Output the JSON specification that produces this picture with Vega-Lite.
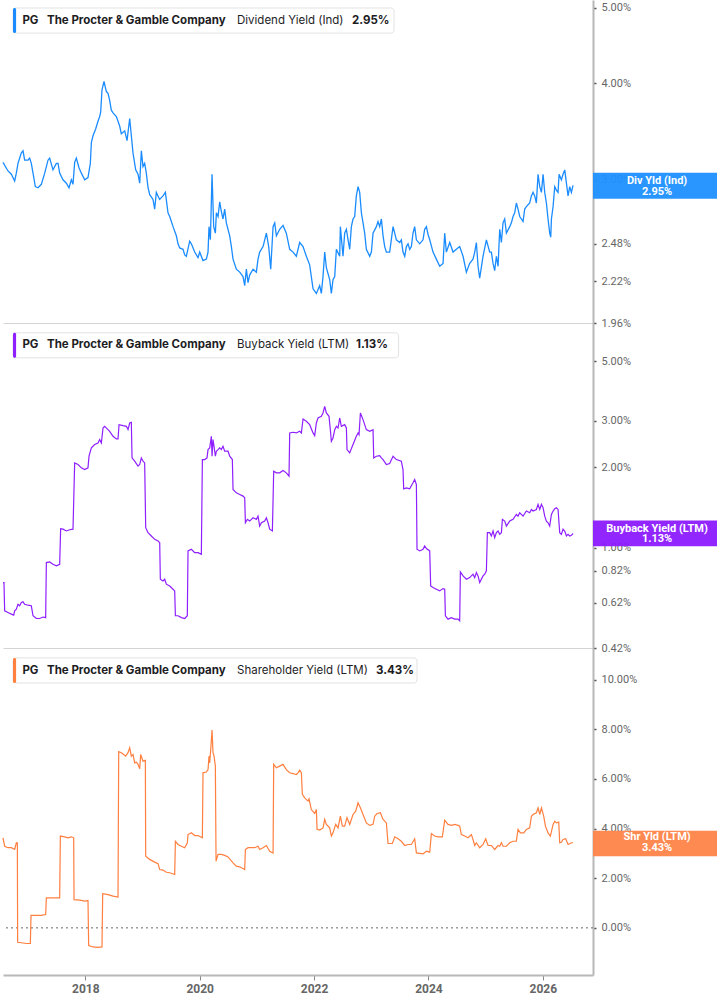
{
"$schema":"https://vega.github.io/schema/vega-lite/v6.json",
"padding":0,
"background":"white",
"spacing":0,
"bounds":"flush",
"config":{"view":{"stroke":null},"concat":{"spacing":0},"axis":{"grid":false,"title":null,"labelFont":"Roboto","labelColor":"#666666","labelFontSize":11}},
"datasets":{
"div":[
{"year":2016.561,"yield":3.16},{"year":2016.648,"yield":3.08},{"year":2016.707,"yield":3.05},{"year":2016.765,"yield":2.99},{"year":2016.794,"yield":3.06},{"year":2016.823,"yield":3.15},{"year":2016.882,"yield":3.25},{"year":2016.911,"yield":3.27},{"year":2016.94,"yield":3.18},{"year":2016.998,"yield":3.18},{"year":2017.027,"yield":3.2},{"year":2017.056,"yield":3.15},{"year":2017.086,"yield":3.06},{"year":2017.126,"yield":2.94},{"year":2017.173,"yield":2.93},{"year":2017.231,"yield":2.96},{"year":2017.29,"yield":3.06},{"year":2017.348,"yield":3.18},{"year":2017.377,"yield":3.2},{"year":2017.435,"yield":3.09},{"year":2017.494,"yield":3.15},{"year":2017.523,"yield":3.15},{"year":2017.552,"yield":3.06},{"year":2017.61,"yield":3.0},{"year":2017.669,"yield":2.97},{"year":2017.715,"yield":2.93},{"year":2017.756,"yield":3.0},{"year":2017.785,"yield":2.96},{"year":2017.814,"yield":3.16},{"year":2017.843,"yield":3.2},{"year":2017.89,"yield":3.11},{"year":2017.931,"yield":3.06},{"year":2017.989,"yield":3.0},{"year":2018.047,"yield":3.02},{"year":2018.088,"yield":3.15},{"year":2018.106,"yield":3.35},{"year":2018.135,"yield":3.42},{"year":2018.181,"yield":3.49},{"year":2018.222,"yield":3.57},{"year":2018.251,"yield":3.62},{"year":2018.269,"yield":3.67},{"year":2018.292,"yield":3.92},{"year":2018.327,"yield":4.02},{"year":2018.368,"yield":3.9},{"year":2018.397,"yield":3.88},{"year":2018.426,"yield":3.8},{"year":2018.455,"yield":3.69},{"year":2018.485,"yield":3.66},{"year":2018.543,"yield":3.62},{"year":2018.601,"yield":3.52},{"year":2018.63,"yield":3.44},{"year":2018.689,"yield":3.47},{"year":2018.73,"yield":3.37},{"year":2018.776,"yield":3.6},{"year":2018.805,"yield":3.42},{"year":2018.834,"yield":3.25},{"year":2018.881,"yield":3.09},{"year":2018.922,"yield":3.05},{"year":2018.951,"yield":2.97},{"year":2018.98,"yield":3.27},{"year":2019.009,"yield":3.12},{"year":2019.038,"yield":3.15},{"year":2019.067,"yield":3.06},{"year":2019.097,"yield":2.93},{"year":2019.126,"yield":2.87},{"year":2019.184,"yield":2.83},{"year":2019.213,"yield":2.75},{"year":2019.242,"yield":2.89},{"year":2019.3,"yield":2.83},{"year":2019.359,"yield":2.86},{"year":2019.4,"yield":2.89},{"year":2019.446,"yield":2.72},{"year":2019.476,"yield":2.69},{"year":2019.534,"yield":2.61},{"year":2019.592,"yield":2.54},{"year":2019.621,"yield":2.48},{"year":2019.651,"yield":2.45},{"year":2019.709,"yield":2.44},{"year":2019.738,"yield":2.4},{"year":2019.767,"yield":2.39},{"year":2019.825,"yield":2.5},{"year":2019.854,"yield":2.48},{"year":2019.913,"yield":2.42},{"year":2019.971,"yield":2.38},{"year":2020.0,"yield":2.42},{"year":2020.058,"yield":2.36},{"year":2020.117,"yield":2.37},{"year":2020.146,"yield":2.42},{"year":2020.163,"yield":2.61},{"year":2020.187,"yield":2.51},{"year":2020.216,"yield":3.05},{"year":2020.245,"yield":2.61},{"year":2020.274,"yield":2.56},{"year":2020.292,"yield":2.72},{"year":2020.321,"yield":2.69},{"year":2020.35,"yield":2.81},{"year":2020.379,"yield":2.73},{"year":2020.408,"yield":2.67},{"year":2020.437,"yield":2.75},{"year":2020.466,"yield":2.64},{"year":2020.525,"yield":2.54},{"year":2020.554,"yield":2.46},{"year":2020.583,"yield":2.37},{"year":2020.641,"yield":2.3},{"year":2020.7,"yield":2.28},{"year":2020.758,"yield":2.25},{"year":2020.787,"yield":2.19},{"year":2020.816,"yield":2.3},{"year":2020.845,"yield":2.21},{"year":2020.874,"yield":2.26},{"year":2020.933,"yield":2.3},{"year":2020.991,"yield":2.28},{"year":2021.02,"yield":2.37},{"year":2021.049,"yield":2.42},{"year":2021.108,"yield":2.46},{"year":2021.166,"yield":2.56},{"year":2021.207,"yield":2.46},{"year":2021.242,"yield":2.3},{"year":2021.283,"yield":2.61},{"year":2021.312,"yield":2.64},{"year":2021.341,"yield":2.54},{"year":2021.399,"yield":2.59},{"year":2021.457,"yield":2.62},
{"year":2021.515,"yield":2.56},{"year":2021.574,"yield":2.44},{"year":2021.632,"yield":2.42},{"year":2021.69,"yield":2.39},{"year":2021.748,"yield":2.49},{"year":2021.807,"yield":2.46},{"year":2021.865,"yield":2.39},{"year":2021.923,"yield":2.33},{"year":2021.982,"yield":2.17},{"year":2022.04,"yield":2.14},{"year":2022.098,"yield":2.19},{"year":2022.127,"yield":2.14},{"year":2022.156,"yield":2.25},{"year":2022.186,"yield":2.42},{"year":2022.215,"yield":2.31},{"year":2022.273,"yield":2.23},{"year":2022.302,"yield":2.14},{"year":2022.331,"yield":2.23},{"year":2022.361,"yield":2.25},{"year":2022.39,"yield":2.44},{"year":2022.448,"yield":2.39},{"year":2022.46,"yield":2.61},{"year":2022.506,"yield":2.39},{"year":2022.535,"yield":2.56},{"year":2022.565,"yield":2.59},{"year":2022.594,"yield":2.51},{"year":2022.623,"yield":2.44},{"year":2022.652,"yield":2.61},{"year":2022.681,"yield":2.67},{"year":2022.71,"yield":2.69},{"year":2022.739,"yield":2.86},{"year":2022.769,"yield":2.94},{"year":2022.798,"yield":2.89},{"year":2022.827,"yield":2.72},{"year":2022.856,"yield":2.64},{"year":2022.885,"yield":2.56},{"year":2022.914,"yield":2.44},{"year":2022.973,"yield":2.39},{"year":2023.002,"yield":2.42},{"year":2023.031,"yield":2.56},{"year":2023.089,"yield":2.61},{"year":2023.118,"yield":2.65},{"year":2023.147,"yield":2.61},{"year":2023.177,"yield":2.67},{"year":2023.206,"yield":2.54},{"year":2023.235,"yield":2.46},{"year":2023.264,"yield":2.42},{"year":2023.322,"yield":2.42},{"year":2023.381,"yield":2.61},{"year":2023.41,"yield":2.56},{"year":2023.439,"yield":2.51},{"year":2023.497,"yield":2.49},{"year":2023.526,"yield":2.51},{"year":2023.555,"yield":2.42},{"year":2023.585,"yield":2.39},{"year":2023.614,"yield":2.46},{"year":2023.643,"yield":2.48},{"year":2023.672,"yield":2.44},{"year":2023.701,"yield":2.46},{"year":2023.73,"yield":2.56},{"year":2023.759,"yield":2.61},{"year":2023.789,"yield":2.51},{"year":2023.847,"yield":2.48},{"year":2023.905,"yield":2.51},{"year":2023.934,"yield":2.59},{"year":2023.964,"yield":2.61},{"year":2023.993,"yield":2.55},{"year":2024.022,"yield":2.51},{"year":2024.08,"yield":2.42},{"year":2024.138,"yield":2.37},{"year":2024.197,"yield":2.32},{"year":2024.255,"yield":2.34},{"year":2024.284,"yield":2.56},{"year":2024.313,"yield":2.42},{"year":2024.372,"yield":2.49},{"year":2024.43,"yield":2.42},{"year":2024.488,"yield":2.44},{"year":2024.546,"yield":2.46},{"year":2024.605,"yield":2.39},{"year":2024.663,"yield":2.28},{"year":2024.721,"yield":2.34},{"year":2024.779,"yield":2.37},{"year":2024.809,"yield":2.42},{"year":2024.838,"yield":2.49},{"year":2024.867,"yield":2.32},{"year":2024.896,"yield":2.24},{"year":2024.954,"yield":2.39},{"year":2025.013,"yield":2.51},{"year":2025.071,"yield":2.42},{"year":2025.1,"yield":2.42},{"year":2025.129,"yield":2.34},{"year":2025.158,"yield":2.29},{"year":2025.188,"yield":2.39},{"year":2025.217,"yield":2.32},{"year":2025.246,"yield":2.59},{"year":2025.275,"yield":2.49},{"year":2025.304,"yield":2.64},{"year":2025.333,"yield":2.67},{"year":2025.363,"yield":2.56},{"year":2025.421,"yield":2.61},{"year":2025.45,"yield":2.64},{"year":2025.479,"yield":2.69},{"year":2025.508,"yield":2.72},{"year":2025.537,"yield":2.8},{"year":2025.566,"yield":2.75},{"year":2025.596,"yield":2.69},{"year":2025.654,"yield":2.65},{"year":2025.683,"yield":2.75},{"year":2025.712,"yield":2.77},{"year":2025.77,"yield":2.8},{"year":2025.8,"yield":2.86},{"year":2025.829,"yield":2.89},{"year":2025.858,"yield":2.86},{"year":2025.887,"yield":2.8},{"year":2025.916,"yield":3.05},{"year":2025.946,"yield":2.94},{"year":2025.975,"yield":2.89},{"year":2026.004,"yield":3.05},{"year":2026.033,"yield":2.89},{"year":2026.062,"yield":2.8},{"year":2026.091,"yield":2.67},{"year":2026.12,"yield":2.56},{"year":2026.138,"yield":2.53},{"year":2026.15,"yield":2.67},{"year":2026.179,"yield":2.77},{"year":2026.208,"yield":2.94},{"year":2026.237,"yield":2.91},{"year":2026.266,"yield":2.89},{"year":2026.284,"yield":3.05},{"year":2026.324,"yield":3.0},{"year":2026.353,"yield":3.05},{"year":2026.383,"yield":3.09},{"year":2026.412,"yield":2.97},{"year":2026.441,"yield":2.86},{"year":2026.47,"yield":2.94},{"year":2026.499,"yield":2.89},{"year":2026.528,"yield":2.95}
],
"bb":[
{"year":2016.561,"yield":0.739},{"year":2016.578,"yield":0.739},{"year":2016.59,"yield":0.579},{"year":2016.648,"yield":0.571},{"year":2016.707,"yield":0.563},{"year":2016.748,"yield":0.558},{"year":2016.765,"yield":0.579},{"year":2016.794,"yield":0.588},{"year":2016.823,"yield":0.613},{"year":2016.852,"yield":0.605},{"year":2016.882,"yield":0.622},{"year":2016.911,"yield":0.626},{"year":2016.94,"yield":0.613},{"year":2016.998,"yield":0.608},{"year":2017.056,"yield":0.605},{"year":2017.086,"yield":0.555},{"year":2017.144,"yield":0.542},{"year":2017.202,"yield":0.542},{"year":2017.26,"yield":0.549},{"year":2017.307,"yield":0.546},{"year":2017.319,"yield":0.879},{"year":2017.377,"yield":0.884},{"year":2017.435,"yield":0.866},{"year":2017.494,"yield":0.854},{"year":2017.552,"yield":0.866},{"year":2017.569,"yield":1.178},{"year":2017.61,"yield":1.173},{"year":2017.669,"yield":1.155},{"year":2017.727,"yield":1.167},{"year":2017.785,"yield":1.173},{"year":2017.814,"yield":2.08},{"year":2017.873,"yield":2.051},{"year":2017.931,"yield":1.993},{"year":2017.989,"yield":1.964},{"year":2018.047,"yield":1.993},{"year":2018.065,"yield":2.204},{"year":2018.106,"yield":2.368},{"year":2018.164,"yield":2.437},{"year":2018.222,"yield":2.472},{"year":2018.251,"yield":2.544},{"year":2018.281,"yield":2.472},{"year":2018.31,"yield":2.813},{"year":2018.339,"yield":2.854},{"year":2018.397,"yield":2.773},{"year":2018.426,"yield":2.733},{"year":2018.485,"yield":2.618},{"year":2018.543,"yield":2.559},{"year":2018.572,"yield":2.559},{"year":2018.59,"yield":2.895},{"year":2018.66,"yield":2.87},{"year":2018.718,"yield":2.854},{"year":2018.747,"yield":2.773},{"year":2018.776,"yield":2.937},{"year":2018.805,"yield":2.954},{"year":2018.817,"yield":2.172},{"year":2018.863,"yield":2.111},{"year":2018.922,"yield":2.022},{"year":2018.951,"yield":2.051},{"year":2018.98,"yield":2.172},{"year":2019.009,"yield":2.111},{"year":2019.038,"yield":2.08},{"year":2019.056,"yield":1.188},{"year":2019.097,"yield":1.138},{"year":2019.155,"yield":1.106},{"year":2019.213,"yield":1.074},{"year":2019.272,"yield":1.059},{"year":2019.301,"yield":1.044},{"year":2019.312,"yield":0.761},{"year":2019.359,"yield":0.75},{"year":2019.388,"yield":0.761},{"year":2019.417,"yield":0.729},{"year":2019.476,"yield":0.718},{"year":2019.534,"yield":0.698},{"year":2019.563,"yield":0.688},{"year":2019.575,"yield":0.555},{"year":2019.621,"yield":0.555},{"year":2019.68,"yield":0.546},{"year":2019.738,"yield":0.542},{"year":2019.784,"yield":0.555},{"year":2019.796,"yield":0.972},{"year":2019.854,"yield":0.986},{"year":2019.913,"yield":0.958},{"year":2019.971,"yield":0.958},{"year":2020.029,"yield":0.944},{"year":2020.047,"yield":2.141},{"year":2020.088,"yield":2.141},{"year":2020.128,"yield":2.172},{"year":2020.146,"yield":2.334},{"year":2020.175,"yield":2.368},{"year":2020.204,"yield":2.618},{"year":2020.216,"yield":2.204},{"year":2020.233,"yield":2.544},{"year":2020.251,"yield":2.402},{"year":2020.274,"yield":2.204},{"year":2020.292,"yield":2.301},{"year":2020.321,"yield":2.334},{"year":2020.35,"yield":2.368},{"year":2020.379,"yield":2.334},{"year":2020.408,"yield":2.402},{"year":2020.437,"yield":2.301},{"year":2020.496,"yield":2.301},{"year":2020.525,"yield":2.204},{"year":2020.571,"yield":2.141},{"year":2020.583,"yield":1.653},{"year":2020.641,"yield":1.606},{"year":2020.7,"yield":1.584},{"year":2020.758,"yield":1.561},{"year":2020.787,"yield":1.539},{"year":2020.799,"yield":1.24},{"year":2020.834,"yield":1.277},{"year":2020.874,"yield":1.258},{"year":2020.933,"yield":1.295},{"year":2020.991,"yield":1.277},{"year":2021.02,"yield":1.313},{"year":2021.049,"yield":1.205},{"year":2021.079,"yield":1.24},{"year":2021.137,"yield":1.258},{"year":2021.166,"yield":1.295},{"year":2021.195,"yield":1.24},{"year":2021.224,"yield":1.173},{"year":2021.271,"yield":1.155},{"year":2021.294,"yield":1.936},{"year":2021.341,"yield":1.909},{"year":2021.399,"yield":1.909},{"year":2021.457,"yield":1.947},{"year":2021.515,"yield":1.909},{"year":2021.562,"yield":1.855},{"year":2021.574,"yield":2.695},{"year":2021.632,"yield":2.711},{"year":2021.69,"yield":2.695},{"year":2021.748,"yield":2.733},{"year":2021.778,"yield":2.695},{"year":2021.807,"yield":3.04},{"year":2021.865,"yield":2.98},{"year":2021.923,"yield":2.895},{"year":2021.982,"yield":2.695},{"year":2022.011,"yield":2.633},{"year":2022.04,"yield":2.937},{"year":2022.069,"yield":3.067},{"year":2022.127,"yield":3.111},{"year":2022.156,"yield":3.202},{"year":2022.186,"yield":3.391},{"year":2022.215,"yield":3.202},{"year":2022.261,"yield":3.111},{"year":2022.29,"yield":2.695},{"year":2022.302,"yield":2.508},{"year":2022.331,"yield":2.581},{"year":2022.361,"yield":2.773},{"year":2022.39,"yield":2.854},{"year":2022.419,"yield":2.813},{"year":2022.448,"yield":3.067},{"year":2022.477,"yield":2.854},{"year":2022.535,"yield":2.895},{"year":2022.565,"yield":2.813},{"year":2022.576,"yield":2.334},{"year":2022.623,"yield":2.268},{"year":2022.681,"yield":2.437},{"year":2022.739,"yield":2.618},{"year":2022.769,"yield":2.695},{"year":2022.786,"yield":2.656},{"year":2022.81,"yield":3.202},{"year":2022.856,"yield":3.023},{"year":2022.914,"yield":2.773},{"year":2022.973,"yield":2.733},{"year":2023.031,"yield":2.773},{"year":2023.043,"yield":2.172},{"year":2023.089,"yield":2.204},{"year":2023.147,"yield":2.216},{"year":2023.177,"yield":2.172},{"year":2023.206,"yield":2.141},{"year":2023.264,"yield":2.051},{"year":2023.322,"yield":2.068},{"year":2023.381,"yield":2.204},{"year":2023.439,"yield":2.141},{"year":2023.526,"yield":2.111},{"year":2023.555,"yield":1.964},{"year":2023.567,"yield":1.663},{"year":2023.614,"yield":1.677},{"year":2023.672,"yield":1.663},{"year":2023.73,"yield":1.751},{"year":2023.759,"yield":1.802},{"year":2023.789,"yield":1.726},{"year":2023.8,"yield":0.986},{"year":2023.847,"yield":0.972},{"year":2023.905,"yield":0.986},{"year":2023.934,"yield":1.014},{"year":2023.964,"yield":0.992},{"year":2024.022,"yield":0.972},{"year":2024.039,"yield":0.718},{"year":2024.08,"yield":0.708},{"year":2024.138,"yield":0.698},{"year":2024.197,"yield":0.688},{"year":2024.255,"yield":0.702},{"year":2024.284,"yield":0.698},{"year":2024.296,"yield":0.555},{"year":2024.342,"yield":0.539},{"year":2024.401,"yield":0.546},{"year":2024.459,"yield":0.539},{"year":2024.517,"yield":0.539},{"year":2024.546,"yield":0.531},{"year":2024.558,"yield":0.811},{"year":2024.605,"yield":0.783},{"year":2024.663,"yield":0.761},{"year":2024.721,"yield":0.772},{"year":2024.779,"yield":0.795},{"year":2024.809,"yield":0.772},{"year":2024.838,"yield":0.806},{"year":2024.867,"yield":0.783},{"year":2024.896,"yield":0.739},{"year":2024.954,"yield":0.783},{"year":2024.984,"yield":0.795},{"year":2025.013,"yield":0.818},{"year":2025.03,"yield":1.138},{"year":2025.071,"yield":1.138},{"year":2025.1,"yield":1.106},{"year":2025.129,"yield":1.155},{"year":2025.158,"yield":1.09},{"year":2025.188,"yield":1.138},{"year":2025.217,"yield":1.155},{"year":2025.246,"yield":1.122},{"year":2025.275,"yield":1.138},{"year":2025.293,"yield":1.277},{"year":2025.333,"yield":1.258},{"year":2025.363,"yield":1.205},{"year":2025.421,"yield":1.258},{"year":2025.479,"yield":1.277},{"year":2025.537,"yield":1.333},{"year":2025.566,"yield":1.313},{"year":2025.596,"yield":1.352},{"year":2025.654,"yield":1.313},{"year":2025.712,"yield":1.372},{"year":2025.77,"yield":1.352},{"year":2025.8,"yield":1.391},{"year":2025.829,"yield":1.372},{"year":2025.887,"yield":1.391},{"year":2025.916,"yield":1.453},{"year":2025.946,"yield":1.391},{"year":2025.975,"yield":1.453},{"year":2026.004,"yield":1.412},{"year":2026.033,"yield":1.313},{"year":2026.062,"yield":1.258},{"year":2026.091,"yield":1.24},{"year":2026.12,"yield":1.205},{"year":2026.15,"yield":1.333},{"year":2026.179,"yield":1.372},{"year":2026.208,"yield":1.4},{"year":2026.237,"yield":1.412},{"year":2026.266,"yield":1.391},{"year":2026.295,"yield":1.138},{"year":2026.324,"yield":1.122},{"year":2026.353,"yield":1.173},{"year":2026.383,"yield":1.155},{"year":2026.412,"yield":1.106},{"year":2026.441,"yield":1.122},{"year":2026.47,"yield":1.106},{"year":2026.499,"yield":1.112},{"year":2026.528,"yield":1.13}
],
"sy":[
{"year":2016.561,"yield":3.63},{"year":2016.59,"yield":3.29},{"year":2016.648,"yield":3.23},{"year":2016.707,"yield":3.23},{"year":2016.765,"yield":3.16},{"year":2016.794,"yield":3.43},{"year":2016.812,"yield":3.43},{"year":2016.817,"yield":-0.58},{"year":2016.882,"yield":-0.6},{"year":2016.969,"yield":-0.63},{"year":2017.039,"yield":-0.63},{"year":2017.051,"yield":0.5},{"year":2017.144,"yield":0.5},{"year":2017.231,"yield":0.5},{"year":2017.307,"yield":0.54},{"year":2017.319,"yield":1.21},{"year":2017.435,"yield":1.21},{"year":2017.552,"yield":1.21},{"year":2017.564,"yield":3.7},{"year":2017.639,"yield":3.67},{"year":2017.698,"yield":3.63},{"year":2017.756,"yield":3.67},{"year":2017.797,"yield":3.63},{"year":2017.803,"yield":1.14},{"year":2017.902,"yield":1.12},{"year":2017.989,"yield":1.08},{"year":2018.047,"yield":1.1},{"year":2018.059,"yield":-0.71},{"year":2018.135,"yield":-0.77},{"year":2018.222,"yield":-0.79},{"year":2018.292,"yield":-0.77},{"year":2018.304,"yield":1.38},{"year":2018.397,"yield":1.34},{"year":2018.485,"yield":1.28},{"year":2018.572,"yield":1.24},{"year":2018.584,"yield":7.1},{"year":2018.63,"yield":7.06},{"year":2018.671,"yield":6.99},{"year":2018.706,"yield":6.92},{"year":2018.747,"yield":7.06},{"year":2018.776,"yield":7.26},{"year":2018.805,"yield":6.92},{"year":2018.834,"yield":6.99},{"year":2018.863,"yield":6.65},{"year":2018.893,"yield":6.68},{"year":2018.922,"yield":6.59},{"year":2018.951,"yield":6.41},{"year":2018.968,"yield":6.99},{"year":2019.009,"yield":6.72},{"year":2019.05,"yield":6.75},{"year":2019.056,"yield":2.89},{"year":2019.126,"yield":2.76},{"year":2019.213,"yield":2.65},{"year":2019.272,"yield":2.59},{"year":2019.301,"yield":2.35},{"year":2019.359,"yield":2.33},{"year":2019.417,"yield":2.24},{"year":2019.476,"yield":2.22},{"year":2019.563,"yield":2.15},{"year":2019.575,"yield":3.49},{"year":2019.621,"yield":3.36},{"year":2019.68,"yield":3.29},{"year":2019.738,"yield":3.23},{"year":2019.784,"yield":3.43},{"year":2019.796,"yield":3.76},{"year":2019.854,"yield":3.83},{"year":2019.913,"yield":3.72},{"year":2019.971,"yield":3.72},{"year":2020.047,"yield":3.63},{"year":2020.058,"yield":6.25},{"year":2020.117,"yield":6.28},{"year":2020.146,"yield":6.38},{"year":2020.163,"yield":6.92},{"year":2020.175,"yield":6.65},{"year":2020.193,"yield":7.19},{"year":2020.216,"yield":7.97},{"year":2020.233,"yield":7.06},{"year":2020.251,"yield":6.92},{"year":2020.274,"yield":6.52},{"year":2020.286,"yield":2.69},{"year":2020.321,"yield":2.96},{"year":2020.379,"yield":2.96},{"year":2020.437,"yield":2.92},{"year":2020.496,"yield":2.86},{"year":2020.583,"yield":2.62},{"year":2020.641,"yield":2.49},{"year":2020.7,"yield":2.46},{"year":2020.787,"yield":2.35},{"year":2020.799,"yield":3.16},{"year":2020.845,"yield":3.23},{"year":2020.904,"yield":3.23},{"year":2020.962,"yield":3.23},{"year":2021.02,"yield":3.29},{"year":2021.049,"yield":3.16},{"year":2021.108,"yield":3.23},{"year":2021.166,"yield":3.32},{"year":2021.224,"yield":3.09},{"year":2021.283,"yield":3.02},{"year":2021.294,"yield":6.59},{"year":2021.341,"yield":6.45},{"year":2021.399,"yield":6.52},{"year":2021.457,"yield":6.59},{"year":2021.515,"yield":6.38},{"year":2021.574,"yield":6.25},{"year":2021.632,"yield":6.22},{"year":2021.69,"yield":6.18},{"year":2021.719,"yield":6.25},{"year":2021.748,"yield":6.36},{"year":2021.778,"yield":6.25},{"year":2021.795,"yield":5.38},{"year":2021.836,"yield":5.24},{"year":2021.894,"yield":5.11},{"year":2021.912,"yield":5.2},{"year":2021.952,"yield":4.77},{"year":2022.011,"yield":4.61},{"year":2022.04,"yield":4.77},{"year":2022.052,"yield":3.97},{"year":2022.098,"yield":3.94},{"year":2022.156,"yield":4.03},{"year":2022.186,"yield":4.37},{"year":2022.215,"yield":4.17},{"year":2022.273,"yield":4.03},{"year":2022.302,"yield":3.7},{"year":2022.331,"yield":3.83},{"year":2022.378,"yield":4.17},{"year":2022.419,"yield":4.03},{"year":2022.46,"yield":4.5},{"year":2022.495,"yield":4.1},{"year":2022.535,"yield":4.1},{"year":2022.576,"yield":4.44},{"year":2022.623,"yield":4.17},{"year":2022.681,"yield":4.57},{"year":2022.728,"yield":4.7},{"year":2022.769,"yield":5.04},{"year":2022.81,"yield":4.84},{"year":2022.856,"yield":4.57},{"year":2022.914,"yield":4.23},{"year":2022.973,"yield":4.13},{"year":2023.031,"yield":4.17},{"year":2023.06,"yield":4.5},{"year":2023.101,"yield":4.61},{"year":2023.159,"yield":4.64},{"year":2023.206,"yield":4.37},{"year":2023.264,"yield":4.23},{"year":2023.293,"yield":3.4},{"year":2023.369,"yield":3.4},{"year":2023.41,"yield":3.67},{"year":2023.468,"yield":3.59},{"year":2023.526,"yield":3.49},{"year":2023.585,"yield":3.32},{"year":2023.643,"yield":3.36},{"year":2023.701,"yield":3.36},{"year":2023.759,"yield":3.59},{"year":2023.789,"yield":3.02},{"year":2023.847,"yield":3.0},{"year":2023.905,"yield":2.98},{"year":2023.964,"yield":3.09},{"year":2024.022,"yield":3.05},{"year":2024.051,"yield":3.8},{"year":2024.109,"yield":3.7},{"year":2024.168,"yield":3.67},{"year":2024.243,"yield":3.67},{"year":2024.284,"yield":4.34},{"year":2024.342,"yield":4.17},{"year":2024.401,"yield":4.13},{"year":2024.459,"yield":4.17},{"year":2024.517,"yield":4.13},{"year":2024.546,"yield":4.1},{"year":2024.576,"yield":3.76},{"year":2024.634,"yield":3.7},{"year":2024.692,"yield":3.63},{"year":2024.75,"yield":3.76},{"year":2024.779,"yield":3.56},{"year":2024.809,"yield":3.32},{"year":2024.838,"yield":3.43},{"year":2024.896,"yield":3.23},{"year":2024.954,"yield":3.36},{"year":2025.001,"yield":3.59},{"year":2025.042,"yield":3.32},{"year":2025.1,"yield":3.32},{"year":2025.158,"yield":3.16},{"year":2025.217,"yield":3.32},{"year":2025.246,"yield":3.29},{"year":2025.275,"yield":3.43},{"year":2025.304,"yield":3.29},{"year":2025.363,"yield":3.29},{"year":2025.421,"yield":3.43},{"year":2025.479,"yield":3.49},{"year":2025.537,"yield":3.49},{"year":2025.566,"yield":3.97},{"year":2025.607,"yield":3.83},{"year":2025.666,"yield":3.83},{"year":2025.712,"yield":3.97},{"year":2025.77,"yield":4.03},{"year":2025.8,"yield":4.5},{"year":2025.829,"yield":4.57},{"year":2025.887,"yield":4.64},{"year":2025.916,"yield":4.84},{"year":2025.946,"yield":4.57},{"year":2025.975,"yield":4.84},{"year":2026.015,"yield":4.5},{"year":2026.045,"yield":4.1},{"year":2026.091,"yield":3.83},{"year":2026.132,"yield":3.7},{"year":2026.179,"yield":4.17},{"year":2026.208,"yield":4.3},{"year":2026.237,"yield":4.23},{"year":2026.278,"yield":4.26},{"year":2026.295,"yield":3.43},{"year":2026.324,"yield":3.45},{"year":2026.353,"yield":3.56},{"year":2026.4,"yield":3.59},{"year":2026.441,"yield":3.36},{"year":2026.499,"yield":3.43},{"year":2026.528,"yield":3.43}
]
},
"vconcat":[
{
"width":590,"height":323,
"layer":[
{"data":{"name":"div"},"mark":{"type":"line","color":"#1a8cff","strokeWidth":1.3},
 "encoding":{
  "x":{"field":"year","type":"quantitative","scale":{"domain":[2016.561,2026.877],"nice":false,"zero":false},"axis":{"orient":"bottom","labels":false,"ticks":false,"domainColor":"#d4d4d4","domainWidth":1,"minExtent":0,"maxExtent":0}},
  "y":{"field":"yield","type":"quantitative","scale":{"type":"log","domain":[1.96,5.12],"nice":false},"axis":{"orient":"right","values":[1.96,2.22,2.48,3,4,5],"labelExpr":"format(datum.value, '.2f') + '%'","domainColor":"#b8b8b8","domainWidth":2,"tickColor":"#555555","tickSize":3,"tickWidth":1.5,"labelPadding":5}}}},
{"data":{"values":[{}]},"mark":{"type":"rect","fill":"white","stroke":"#e2e2e2","strokeWidth":1,"cornerRadius":3},"encoding":{"x":{"datum":2016.736},"x2":{"datum":2023.398},"y":{"datum":5.0},"y2":{"datum":4.64}}},
{"data":{"values":[{}]},"mark":{"type":"rect","fill":"#1a8cff","cornerRadius":1.5},"encoding":{"x":{"datum":2016.736},"x2":{"datum":2016.79},"y":{"datum":5.0},"y2":{"datum":4.64}}},
{"data":{"values":[{}]},"mark":{"type":"text","font":"Inter","fontSize":11.5,"fontWeight":700,"color":"#1d1d1f","align":"left","baseline":"middle","text":"PG"},"encoding":{"x":{"datum":2016.9},"y":{"datum":4.817}}},
{"data":{"values":[{}]},"mark":{"type":"text","font":"Inter","fontSize":11.5,"fontWeight":700,"color":"#1d1d1f","align":"left","baseline":"middle","text":"The Procter & Gamble Company"},"encoding":{"x":{"datum":2017.33},"y":{"datum":4.817}}},
{"data":{"values":[{}]},"mark":{"type":"text","font":"Inter","fontSize":11.5,"fontWeight":400,"color":"#1d1d1f","align":"left","baseline":"middle","text":"Dividend Yield (Ind)"},"encoding":{"x":{"datum":2020.653},"y":{"datum":4.817}}},
{"data":{"values":[{}]},"mark":{"type":"text","font":"Inter","fontSize":11.5,"fontWeight":700,"color":"#1d1d1f","align":"left","baseline":"middle","text":"2.95%"},"encoding":{"x":{"datum":2022.664},"y":{"datum":4.817}}},
{"data":{"values":[{}]},"mark":{"type":"rect","fill":"#1e90ff","fillOpacity":0.95},"encoding":{"x":{"datum":2026.877},"x2":{"datum":2029.098},"y":{"datum":3.064},"y2":{"datum":2.836}}},
{"data":{"values":[{}]},"mark":{"type":"text","font":"Roboto","fontSize":11,"fontWeight":700,"color":"white","align":"center","baseline":"middle","text":"Div Yld (Ind)"},"encoding":{"x":{"datum":2027.997},"y":{"datum":2.992}}},
{"data":{"values":[{}]},"mark":{"type":"text","font":"Roboto","fontSize":11,"fontWeight":700,"color":"white","align":"center","baseline":"middle","text":"2.95%"},"encoding":{"x":{"datum":2027.997},"y":{"datum":2.896}}}
]
},
{
"width":590,"height":325,
"layer":[
{"data":{"name":"bb"},"mark":{"type":"line","color":"#8f1fff","strokeWidth":1.2},
 "encoding":{
  "x":{"field":"year","type":"quantitative","scale":{"domain":[2016.561,2026.877],"nice":false,"zero":false},"axis":{"orient":"bottom","labels":false,"ticks":false,"domainColor":"#d4d4d4","domainWidth":1,"minExtent":0,"maxExtent":0}},
  "y":{"field":"yield","type":"quantitative","scale":{"type":"log","domain":[0.42,6.97],"nice":false},"axis":{"orient":"right","values":[0.42,0.62,0.82,1,2,3,5],"labelExpr":"format(datum.value, '.2f') + '%'","domainColor":"#b8b8b8","domainWidth":2,"tickColor":"#555555","tickSize":3,"tickWidth":1.5,"labelPadding":5}}}},
{"data":{"values":[{}]},"mark":{"type":"rect","fill":"white","stroke":"#e2e2e2","strokeWidth":1,"cornerRadius":3},"encoding":{"x":{"datum":2016.736},"x2":{"datum":2023.478},"y":{"datum":6.40},"y2":{"datum":5.158}}},
{"data":{"values":[{}]},"mark":{"type":"rect","fill":"#8f1fff","cornerRadius":1.5},"encoding":{"x":{"datum":2016.736},"x2":{"datum":2016.79},"y":{"datum":6.40},"y2":{"datum":5.158}}},
{"data":{"values":[{}]},"mark":{"type":"text","font":"Inter","fontSize":11.5,"fontWeight":700,"color":"#1d1d1f","align":"left","baseline":"middle","text":"PG"},"encoding":{"x":{"datum":2016.9},"y":{"datum":5.745}}},
{"data":{"values":[{}]},"mark":{"type":"text","font":"Inter","fontSize":11.5,"fontWeight":700,"color":"#1d1d1f","align":"left","baseline":"middle","text":"The Procter & Gamble Company"},"encoding":{"x":{"datum":2017.33},"y":{"datum":5.745}}},
{"data":{"values":[{}]},"mark":{"type":"text","font":"Inter","fontSize":11.5,"fontWeight":400,"color":"#1d1d1f","align":"left","baseline":"middle","text":"Buyback Yield (LTM)"},"encoding":{"x":{"datum":2020.653},"y":{"datum":5.745}}},
{"data":{"values":[{}]},"mark":{"type":"text","font":"Inter","fontSize":11.5,"fontWeight":700,"color":"#1d1d1f","align":"left","baseline":"middle","text":"1.13%"},"encoding":{"x":{"datum":2022.733},"y":{"datum":5.745}}},
{"data":{"values":[{}]},"mark":{"type":"rect","fill":"#8c1aff","fillOpacity":0.95},"encoding":{"x":{"datum":2026.877},"x2":{"datum":2029.098},"y":{"datum":1.265},"y2":{"datum":1.011}}},
{"data":{"values":[{}]},"mark":{"type":"text","font":"Roboto","fontSize":11,"fontWeight":700,"color":"white","align":"center","baseline":"middle","text":"Buyback Yield (LTM)"},"encoding":{"x":{"datum":2027.997},"y":{"datum":1.178}}},
{"data":{"values":[{}]},"mark":{"type":"text","font":"Roboto","fontSize":11,"fontWeight":700,"color":"white","align":"center","baseline":"middle","text":"1.13%"},"encoding":{"x":{"datum":2027.997},"y":{"datum":1.074}}}
]
},
{
"width":590,"height":327,
"layer":[
{"data":{"values":[{}]},"mark":{"type":"rule","color":"#666666","strokeWidth":1,"strokeDash":[2,3]},"encoding":{"y":{"datum":0}}},
{"data":{"name":"sy"},"mark":{"type":"line","color":"#ff7f3f","strokeWidth":1.2},
 "encoding":{
  "x":{"field":"year","type":"quantitative","scale":{"domain":[2016.561,2026.877],"nice":false,"zero":false},"axis":{"orient":"bottom","values":[2018,2020,2022,2024,2026],"format":"d","labelFontWeight":"bold","labelFontSize":12,"labelColor":"#666666","tickColor":"#888888","tickSize":5,"labelPadding":3,"domainColor":"#b8b8b8","domainWidth":2}},
  "y":{"field":"yield","type":"quantitative","scale":{"domain":[-1.9,11.28],"nice":false,"zero":false},"axis":{"orient":"right","values":[0,2,4,6,8,10],"labelExpr":"format(datum.value, '.2f') + '%'","domainColor":"#b8b8b8","domainWidth":2,"tickColor":"#555555","tickSize":3,"tickWidth":1.5,"labelPadding":5}}}},
{"data":{"values":[{}]},"mark":{"type":"rect","fill":"white","stroke":"#e2e2e2","strokeWidth":1,"cornerRadius":3},"encoding":{"x":{"datum":2016.736},"x2":{"datum":2023.80},"y":{"datum":10.88},"y2":{"datum":9.87}}},
{"data":{"values":[{}]},"mark":{"type":"rect","fill":"#ff7f3f","cornerRadius":1.5},"encoding":{"x":{"datum":2016.736},"x2":{"datum":2016.79},"y":{"datum":10.88},"y2":{"datum":9.87}}},
{"data":{"values":[{}]},"mark":{"type":"text","font":"Inter","fontSize":11.5,"fontWeight":700,"color":"#1d1d1f","align":"left","baseline":"middle","text":"PG"},"encoding":{"x":{"datum":2016.9},"y":{"datum":10.37}}},
{"data":{"values":[{}]},"mark":{"type":"text","font":"Inter","fontSize":11.5,"fontWeight":700,"color":"#1d1d1f","align":"left","baseline":"middle","text":"The Procter & Gamble Company"},"encoding":{"x":{"datum":2017.33},"y":{"datum":10.37}}},
{"data":{"values":[{}]},"mark":{"type":"text","font":"Inter","fontSize":11.5,"fontWeight":400,"color":"#1d1d1f","align":"left","baseline":"middle","text":"Shareholder Yield (LTM)"},"encoding":{"x":{"datum":2020.653},"y":{"datum":10.37}}},
{"data":{"values":[{}]},"mark":{"type":"text","font":"Inter","fontSize":11.5,"fontWeight":700,"color":"#1d1d1f","align":"left","baseline":"middle","text":"3.43%"},"encoding":{"x":{"datum":2023.083},"y":{"datum":10.37}}},
{"data":{"values":[{}]},"mark":{"type":"rect","fill":"#ff8448","fillOpacity":0.95},"encoding":{"x":{"datum":2026.877},"x2":{"datum":2029.098},"y":{"datum":3.91},"y2":{"datum":2.89}}},
{"data":{"values":[{}]},"mark":{"type":"text","font":"Roboto","fontSize":11,"fontWeight":700,"color":"white","align":"center","baseline":"middle","text":"Shr Yld (LTM)"},"encoding":{"x":{"datum":2027.997},"y":{"datum":3.645}}},
{"data":{"values":[{}]},"mark":{"type":"text","font":"Roboto","fontSize":11,"fontWeight":700,"color":"white","align":"center","baseline":"middle","text":"3.43%"},"encoding":{"x":{"datum":2027.997},"y":{"datum":3.20}}}
]
}
]
}
